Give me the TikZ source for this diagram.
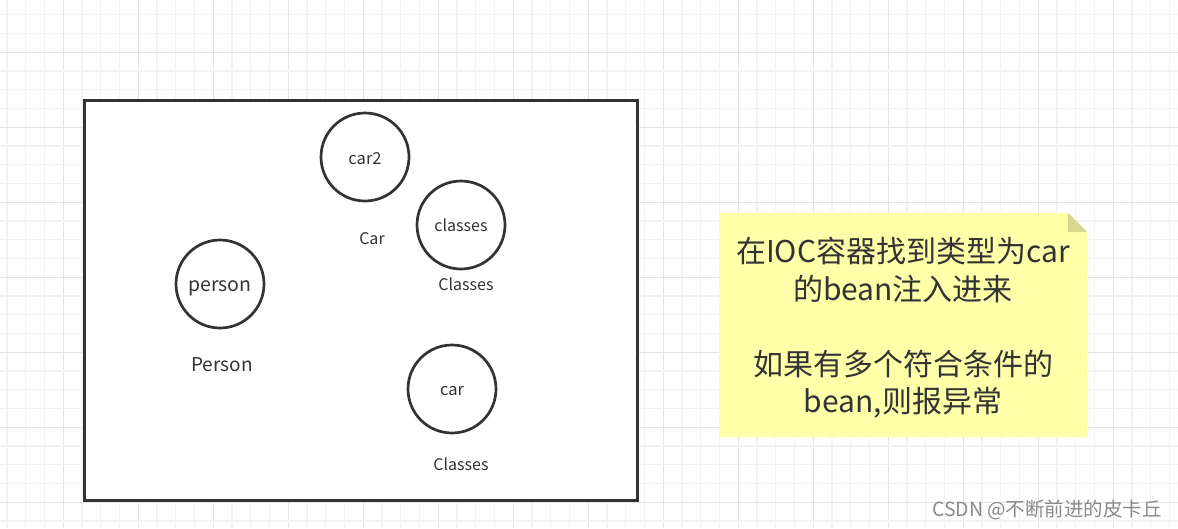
\documentclass[tikz,border=0pt]{standalone}
\usepackage{fontspec}
\setmainfont{Noto Sans CJK SC}
\usetikzlibrary{calc}
\definecolor{gridminor}{HTML}{F2F2F2}
\definecolor{gridmajor}{HTML}{E4E4E4}
\definecolor{ink}{HTML}{333333}
\definecolor{notefill}{HTML}{FFFFAA}
\definecolor{notefold}{HTML}{D7D78E}
\definecolor{wm}{HTML}{8A8A8A}
\tikzset{
  obj/.style={circle, draw=ink, line width=2.7pt, minimum size=88pt, inner sep=0pt, text=ink, font=\fontsize{16.5}{20}\selectfont},
  lbl/.style={text=ink, font=\fontsize{16}{19}\selectfont, inner sep=0pt},
  frame/.style={draw=ink, line width=3pt, fill=white},
}
\begin{document}
\begin{tikzpicture}[x=1pt,y=-1pt]
\useasboundingbox (0,0) rectangle (1178,528);
\fill[white] (0,0) rectangle (1178,528);
% grid
\foreach \i in {0,...,62}{
  \pgfmathsetmacro{\gx}{7.05+\i*18.75}
  \pgfmathtruncatemacro{\m}{mod(\i,4)}
  \ifnum\m=3 \draw[gridmajor,line width=1.3pt] (\gx,0) -- (\gx,528);
  \else \draw[gridminor,line width=1.2pt] (\gx,0) -- (\gx,528); \fi
}
\foreach \j in {0,...,28}{
  \pgfmathsetmacro{\gy}{14.8+\j*18.75}
  \pgfmathtruncatemacro{\m}{mod(\j,4)}
  \ifnum\m=2 \draw[gridmajor,line width=1.3pt] (0,\gy) -- (1178,\gy);
  \else \draw[gridminor,line width=1.2pt] (0,\gy) -- (1178,\gy); \fi
}
% container
\node[frame, minimum width=553pt, minimum height=400pt, inner sep=0pt] (ioc) at (360.5,300) {};
% beans
\node[obj] (car2) at (365,157) {};
\node[text=ink, inner sep=0pt, font=\fontsize{16.5}{20}\selectfont] at ($(car2)+(0,2)$) {car2};
\node[obj] (classes) at (461,225) {};
\node[text=ink, inner sep=0pt, font=\fontsize{16}{20}\selectfont] at ($(classes)+(0,0.5)$) {classes};
\node[obj] (person) at (220,284) {};
\node[text=ink, inner sep=0pt, font=\fontsize{19.5}{23}\selectfont] at ($(person)+(0,4)$) {person};
\node[obj] (car) at (452,389) {};
\node[text=ink, inner sep=0pt, font=\fontsize{16.5}{20}\selectfont] at ($(car)+(0,2)$) {car};
% type labels
\node[lbl] (lcar) at (372,238.5) {Car};
\node[lbl] (lclasses1) at (466,284.5) {Classes};
\node[lbl, font=\fontsize{19}{22}\selectfont] (lperson) at (222,364.5) {Person};
\node[lbl] (lclasses2) at (461,464.5) {Classes};
% note
\fill[notefill] (719,213) -- (1068,213) -- (1087,232) -- (1087,437) -- (719,437) -- cycle;
\fill[notefold] (1068,213) -- (1087,232) -- (1068,232) -- cycle;
\node[text=ink, align=center, inner sep=0pt, font=\fontsize{30}{37.5}\selectfont] (note) at (903,328)
  {在IOC容器找到类型为car\\的bean注入进来\\[37.5pt]如果有多个符合条件的\\bean,则报异常};
% watermark
\node[text=wm, inner sep=0pt, font=\fontsize{19.5}{22}\selectfont] (wmk) at (1047,510) {CSDN @不断前进的皮卡丘};
\end{tikzpicture}
\end{document}
